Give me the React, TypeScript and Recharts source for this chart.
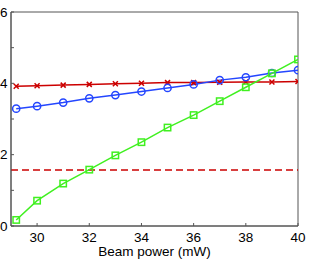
import {
  LineChart,
  Line,
  XAxis,
  YAxis,
  ReferenceLine,
  ReferenceArea,
} from "recharts";

const power = [29.2, 30, 31, 32, 33, 34, 35, 36, 37, 38, 39, 40];
const crossSeries = [3.92, 3.93, 3.95, 3.97, 3.99, 4.0, 4.02, 4.02, 4.03, 4.04, 4.04, 4.05];
const circleSeries = [3.29, 3.36, 3.46, 3.58, 3.67, 3.77, 3.87, 3.97, 4.09, 4.17, 4.29, 4.37];
const squareSeries = [0.17, 0.71, 1.19, 1.58, 1.98, 2.35, 2.76, 3.11, 3.5, 3.89, 4.28, 4.67];
const threshold = 1.57;
const xTicks = [30, 32, 34, 36, 38, 40];
const yTicks = [0, 1, 2, 3, 4, 5, 6];

const RED = "#cc0000";
const BLUE = "#2446ff";
const GREEN = "#40f020";
const AXIS = "#555555";
const FONT = "'Liberation Sans', Arial, sans-serif";

const data = power.map((p, i) => ({
  p,
  cross: crossSeries[i],
  circle: circleSeries[i],
  square: squareSeries[i],
}));

export default function App() {
  const tickStyle = { fill: "#000", fontSize: 13.5, fontFamily: FONT };
  return (
    <div style={{ position: "absolute", left: 0, top: 0, background: "#fff" }}>
      <LineChart
        width={311}
        height={261}
        data={data}
        margin={{ top: 12, right: 13, bottom: 0, left: 0 }}
      >
        <XAxis
          dataKey="p"
          type="number"
          domain={[29, 40]}
          ticks={xTicks}
          allowDataOverflow
          height={35}
          stroke={AXIS}
          tickSize={-3}
          tickMargin={9}
          tick={tickStyle}
          label={{
            value: "Beam power (mW)",
            position: "insideBottom",
            offset: 5,
            fill: "#000",
            fontSize: 13.5,
            fontFamily: FONT,
          }}
        />
        <YAxis
          type="number"
          domain={[0, 6]}
          ticks={yTicks}
          width={11}
          stroke={AXIS}
          tickSize={-3}
          tickMargin={6.5}
          tick={tickStyle}
          tickFormatter={(v: number) => (v % 2 === 0 ? String(v) : "")}
        />
        <ReferenceArea
          x1={29}
          x2={40}
          y1={0}
          y2={6}
          fill="none"
          stroke={AXIS}
          strokeWidth={1}
          fillOpacity={0}
        />
        <ReferenceLine
          y={threshold}
          stroke={RED}
          strokeWidth={1.5}
          strokeDasharray="7 4"
        />
        <Line
          dataKey="cross"
          stroke={RED}
          strokeWidth={1.5}
          isAnimationActive={false}
          dot={(props: any) => {
            const { cx, cy, index } = props;
            const s = 2.5;
            return (
              <path
                key={`x-${index}`}
                d={`M${cx - s},${cy - s}L${cx + s},${cy + s}M${cx - s},${cy + s}L${cx + s},${cy - s}`}
                stroke={RED}
                strokeWidth={1.5}
                fill="none"
              />
            );
          }}
        />
        <Line
          dataKey="circle"
          stroke={BLUE}
          strokeWidth={1.5}
          isAnimationActive={false}
          dot={{ r: 3.6, stroke: BLUE, strokeWidth: 1.5, fill: "none" }}
        />
        <Line
          dataKey="square"
          stroke={GREEN}
          strokeWidth={1.5}
          isAnimationActive={false}
          dot={(props: any) => {
            const { cx, cy, index } = props;
            const s = 3.2;
            return (
              <rect
                key={`sq-${index}`}
                x={cx - s}
                y={cy - s}
                width={s * 2}
                height={s * 2}
                stroke={GREEN}
                strokeWidth={1.5}
                fill="none"
              />
            );
          }}
        />
      </LineChart>
    </div>
  );
}
